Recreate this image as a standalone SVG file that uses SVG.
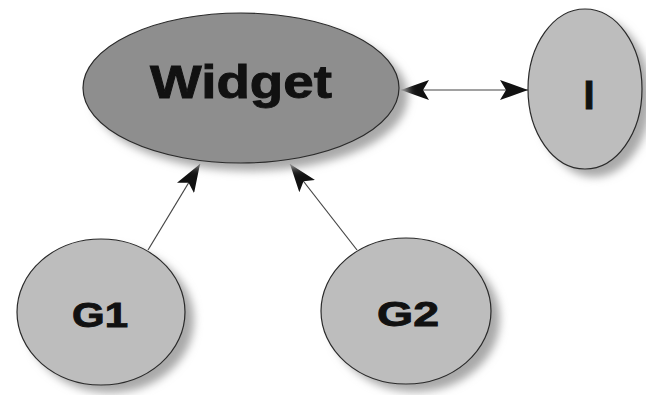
<svg xmlns="http://www.w3.org/2000/svg" width="646" height="395" viewBox="0 0 646 395">
  <style>
    .node { stroke: #2a2a2a; stroke-width: 1.2; }
    .light { fill: #bdbdbd; }
    .dark { fill: #8e8e8e; }
    .shadow { fill: #a9a9a9; filter: url(#soft); }
    .label { font-family: "Liberation Sans", Arial, sans-serif; font-weight: bold; fill: #111; stroke: #111; stroke-width: 0.9; text-anchor: middle; }
    .edge { stroke: #444; stroke-width: 1.2; fill: none; }
  </style>
  <defs>
    <filter id="soft" x="-20%" y="-20%" width="140%" height="140%">
      <feGaussianBlur stdDeviation="4.5"/>
    </filter>
    <marker id="head" viewBox="0 0 28 20" refX="28" refY="10" markerWidth="28" markerHeight="20" markerUnits="userSpaceOnUse" orient="auto-start-reverse">
      <path d="M0,0 L28,10 L0,20 L6,10 Z" fill="#111"/>
    </marker>
  </defs>
  <rect width="646" height="395" fill="#fff"/>

  <g id="connectors">
    <line class="edge" x1="148" y1="250" x2="200" y2="164" marker-end="url(#head)"/>
    <line class="edge" x1="357" y1="250" x2="290" y2="164" marker-end="url(#head)"/>
    <line class="edge" x1="401" y1="90" x2="528" y2="90" marker-start="url(#head)" marker-end="url(#head)"/>
  </g>

  <g id="widget">
    <ellipse class="shadow" cx="250" cy="96" rx="158" ry="75"/>
    <ellipse class="node dark" cx="241" cy="88" rx="158" ry="75"/>
    <text class="label" x="241" y="98" font-size="47" textLength="182" lengthAdjust="spacingAndGlyphs">Widget</text>
  </g>

  <g id="i">
    <ellipse class="shadow" cx="594" cy="97" rx="57" ry="80"/>
    <ellipse class="node light" cx="585" cy="89" rx="57" ry="80"/>
    <text class="label" x="589" y="109" font-size="40">I</text>
  </g>

  <g id="g1">
    <ellipse class="shadow" cx="110" cy="320" rx="84" ry="73"/>
    <ellipse class="node light" cx="101" cy="312" rx="84" ry="73"/>
    <text class="label" x="100" y="327" font-size="35" textLength="56" lengthAdjust="spacingAndGlyphs">G1</text>
  </g>

  <g id="g2">
    <ellipse class="shadow" cx="415" cy="319" rx="85" ry="73"/>
    <ellipse class="node light" cx="406" cy="311" rx="85" ry="73"/>
    <text class="label" x="408" y="326" font-size="35" textLength="62" lengthAdjust="spacingAndGlyphs">G2</text>
  </g>
</svg>
